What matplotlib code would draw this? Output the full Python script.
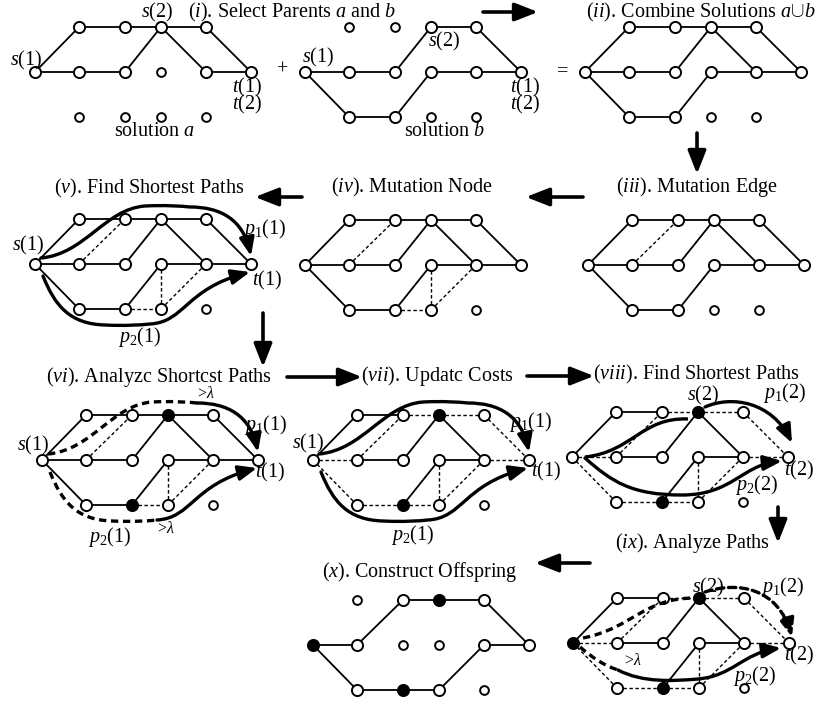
import matplotlib
matplotlib.use("Agg")
import matplotlib.pyplot as plt
from matplotlib.path import Path
from matplotlib.patches import FancyArrowPatch, PathPatch

plt.rcParams['font.family'] = ['Liberation Serif', 'DejaVu Serif']
plt.rcParams['mathtext.fontset'] = 'custom'
plt.rcParams['mathtext.rm'] = 'Liberation Serif'
plt.rcParams['mathtext.it'] = 'Liberation Serif:italic'
plt.rcParams['mathtext.bf'] = 'Liberation Serif:bold'

FS = 14.5

# ---------- node grid (offsets from the left middle node, in pixels) ----------
COL_X = [0, 44, 90, 126, 171, 216]
ROW_Y = {'T': -45, 'M': 0, 'B': 45}
NODES = ['T1', 'T2', 'T3', 'T4', 'M0', 'M1', 'M2', 'M3', 'M4', 'M5', 'B1', 'B2', 'B3', 'B4']

# ---------- edge sets ----------
sol_a = [('M0', 'T1'), ('T1', 'T2'), ('T2', 'T3'), ('T3', 'T4'), ('T4', 'M5'),
         ('M0', 'M1'), ('M1', 'M2'), ('M2', 'T3'), ('T3', 'M4'), ('M4', 'M5')]
sol_b = [('M0', 'M1'), ('M1', 'M2'), ('M2', 'T3'), ('T3', 'T4'), ('T4', 'M5'),
         ('M0', 'B1'), ('B1', 'B2'), ('B2', 'M3'), ('M3', 'M4'), ('M4', 'M5')]
union = [('M0', 'T1'), ('T1', 'T2'), ('T2', 'T3'), ('T3', 'T4'), ('T4', 'M5'),
         ('M0', 'M1'), ('M1', 'M2'), ('M2', 'T3'), ('T3', 'M4'), ('M4', 'M5'),
         ('M0', 'B1'), ('B1', 'B2'), ('B2', 'M3'), ('M3', 'M4')]
mut_edge = [('M1', 'T2')]
mut_node = [('M1', 'T2'), ('B2', 'B3'), ('B3', 'M3'), ('B3', 'M4')]
kept = [('M0', 'T1'), ('T1', 'T2'), ('M1', 'M2'), ('M2', 'T3'), ('T3', 'M4'),
        ('B2', 'M3'), ('M3', 'M4')]
costed = [('T2', 'T3'), ('T3', 'T4'), ('T4', 'M5'), ('M0', 'M1'), ('M0', 'B1'),
          ('B1', 'B2'), ('M1', 'T2'), ('B2', 'B3'), ('B3', 'M3'), ('B3', 'M4'),
          ('M4', 'M5')]
offspring = [('M0', 'M1'), ('M1', 'T2'), ('T2', 'T3'), ('T3', 'T4'), ('T4', 'M5'),
             ('M0', 'B1'), ('B1', 'B2'), ('B2', 'B3'), ('B3', 'M4'), ('M4', 'M5')]

# panel: origin, solid edges, dashed edges, black nodes
panels = {
    'a':    ((35, 72),   sol_a,     [],       []),
    'b':    ((305, 72),  sol_b,     [],       []),
    'ii':   ((585, 72),  union,     [],       []),
    'iii':  ((588, 265), union,     mut_edge, []),
    'iv':   ((305, 265), union,     mut_node, []),
    'v':    ((35, 264),  union,     mut_node, []),
    'vi':   ((42, 460),  union,     mut_node, ['T3', 'B2']),
    'vii':  ((313, 460), kept,      costed,   ['T3', 'B2']),
    'viii': ((572, 457), kept,      costed,   ['T3', 'B2']),
    'ix':   ((573, 643), kept,      costed,   ['M0', 'T3', 'B2']),
    'x':    ((313, 645), offspring, [],       ['M0', 'T3', 'B2']),
}

# ---------- path curves (bezier control points, relative to panel origin) ----------
P1_HEAD = [(6, -6), (50, -10), (70, -55), (110, -58), (130, -59), (145, -58), (155, -57)]
P1_TAIL = [(155, -57), (185, -57), (208, -45), (216, -8)]
P2_HEAD = [(8, 12), (20, 42), (35, 60), (70, 61), (90, 62), (105, 61), (115, 60)]
P2_TAIL = [(115, 60), (150, 58), (150, 25), (215, 8)]
P12_VIII = [(133, -50), (160, -62), (200, -55), (220, -14)]
C_VIII = [(13, 0), (60, -5), (70, -40), (116, -38)]
P22_VIII = [(13, 1), (40, 25), (60, 38), (110, 38), (160, 38), (170, 8), (210, 4)]
P12_IX = [(132, -51), (165, -62), (205, -55), (219, -6)]
C_IX = [(10, -5), (60, -15), (70, -45), (122, -45)]
P22_IX_HEAD = [(7, 4), (20, 15), (30, 22), (45, 27)]
P22_IX_TAIL = [(45, 27), (70, 40), (100, 38), (125, 36), (160, 33), (170, 10), (208, 5)]

# (panel, points, dashed, arrow)
curves = [
    ('v', P1_HEAD + P1_TAIL[1:], False, True),
    ('v', P2_HEAD + P2_TAIL[1:], False, True),
    ('vi', P1_HEAD, True, False),
    ('vi', P1_TAIL, False, True),
    ('vi', P2_HEAD, True, False),
    ('vi', P2_TAIL, False, True),
    ('vii', P1_HEAD + P1_TAIL[1:], False, True),
    ('vii', P2_HEAD + P2_TAIL[1:], False, True),
    ('viii', P12_VIII, False, True),
    ('viii', C_VIII, False, False),
    ('viii', P22_VIII, False, True),
    ('ix', P12_IX, True, True),
    ('ix', C_IX, True, False),
    ('ix', P22_IX_HEAD, True, False),
    ('ix', P22_IX_TAIL, False, True),
]

# ---------- texts ----------
titles = [
    (r'($i$). Select Parents $a$ and $b$', 292, 12),
    (r'($ii$). Combine Solutions $a{\cup}b$', 701, 12),
    (r'($iii$). Mutation Edge', 697, 187),
    (r'($iv$). Mutation Node', 412, 187),
    (r'($v$). Find Shortest Paths', 149, 188),
    (r'($vi$). Analyzc Shortcst Paths', 159, 377),
    (r'($vii$). Updatc Costs', 437, 376),
    (r'($viii$). Find Shortest Paths', 697, 374),
    (r'($ix$). Analyze Paths', 692, 543),
    (r'($x$). Construct Offspring', 420, 572),
]
labels = [
    ('$s(1)$', 26, 60), ('$s(2)$', 157, 12), ('$t(1)$', 247, 87), ('$t(2)$', 247, 104),
    ('solution $a$', 155, 131),
    ('$s(1)$', 318, 57), ('$s(2)$', 444, 41), ('$t(1)$', 525, 87), ('$t(2)$', 525, 104),
    ('solution $b$', 445, 131),
    ('+', 283, 70), ('=', 563, 72),
    ('$s(1)$', 28, 245), ('$p_1(1)$', 265, 229), ('$t(1)$', 267, 280), ('$p_2(1)$', 140, 337),
    ('$s(1)$', 33, 445), ('$p_1(1)$', 266, 425), ('$t(1)$', 270, 472), ('$p_2(1)$', 110, 537),
    ('$s(1)$', 308, 443), ('$p_1(1)$', 531, 422), ('$t(1)$', 546, 471), ('$p_2(1)$', 413, 535),
    ('$s(2)$', 703, 395), ('$p_1(2)$', 785, 393), ('$t(2)$', 799, 470), ('$p_2(2)$', 757, 485),
    ('$s(2)$', 708, 587), ('$p_1(2)$', 783, 587), ('$t(2)$', 799, 655), ('$p_2(2)$', 755, 676),
]
lambdas = [(206, 394), (166, 529), (633, 661)]

# ---------- arrows between panels ----------
flow = [
    ((483, 12), (538, 12)),
    ((697, 133), (697, 174)),
    ((583, 197), (526, 197)),
    ((302, 197), (255, 197)),
    ((263, 313), (263, 367)),
    ((287, 377), (362, 377)),
    ((527, 376), (594, 376)),
    ((778, 507), (778, 543)),
    ((590, 563), (535, 563)),
]


def bez(ox, oy, pts):
    verts = [(ox + x, oy + y) for x, y in pts]
    codes = [Path.MOVETO] + [Path.CURVE4] * (len(verts) - 1)
    return Path(verts, codes)


fig = plt.figure(figsize=(8.15, 7.03), dpi=100)
ax = fig.add_axes([0, 0, 1, 1])
ax.set_xlim(0, 815)
ax.set_ylim(703, 0)
ax.axis('off')

for name, (org, solid, dashed, black) in panels.items():
    ox, oy = org
    pos = {n: (ox + COL_X[int(n[1])], oy + ROW_Y[n[0]]) for n in NODES}
    used = set()
    for u, v in solid:
        ax.plot([pos[u][0], pos[v][0]], [pos[u][1], pos[v][1]], color='k', lw=1.3, zorder=2)
        used.update([u, v])
    for u, v in dashed:
        ax.plot([pos[u][0], pos[v][0]], [pos[u][1], pos[v][1]], color='k', lw=1.0,
                dashes=(2.5, 1.8), zorder=2)
        used.update([u, v])
    for n in NODES:
        x, y = pos[n]
        fc = 'k' if n in black else 'white'
        ms = 8 if n in used else 6.3
        ax.plot(x, y, 'o', ms=ms, mfc=fc, mec='k', mew=1.4, zorder=4)

for name, pts, dashed, arrow in curves:
    ox, oy = panels[name][0]
    path = bez(ox, oy, pts)
    ls = (0, (2.2, 1.4)) if dashed else '-'
    if arrow:
        p = FancyArrowPatch(path=path, arrowstyle='-|>,head_length=11,head_width=4.5',
                            mutation_scale=1, lw=2.4, color='k', linestyle=ls,
                            shrinkA=0, shrinkB=0, zorder=5)
    else:
        p = PathPatch(path, fill=False, lw=2.4, color='k', linestyle=ls, zorder=5)
    ax.add_patch(p)

for s, x, y in titles:
    ax.text(x, y, s, fontsize=FS, ha='center', va='center', zorder=6)
for s, x, y in labels:
    ax.text(x, y, s, fontsize=FS, ha='center', va='center', zorder=6)
for x, y in lambdas:
    ax.text(x, y, r'>$\lambda$', fontsize=11.5, ha='center', va='center', zorder=6)

for a, b in flow:
    ax.add_patch(FancyArrowPatch(a, b, arrowstyle='-|>,head_length=14,head_width=5.5',
                                 mutation_scale=1, lw=2.6, color='k',
                                 shrinkA=0, shrinkB=0, zorder=5))

fig.savefig('out.png', dpi=100)
